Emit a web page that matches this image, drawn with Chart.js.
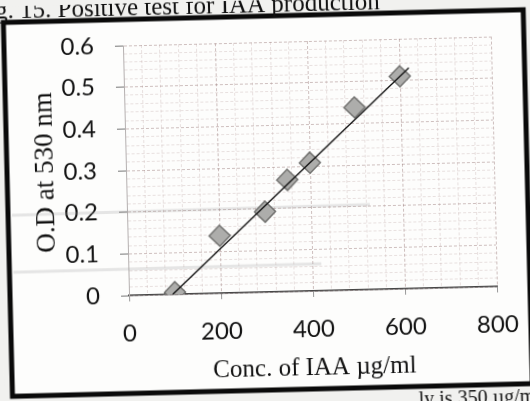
<!DOCTYPE html>
<html lang="en">

<head>
    <meta charset="UTF-8">
    <title>IAA standard curve</title>
    <style>
        html, body {
            margin: 0;
            padding: 0;
            width: 530px;
            height: 401px;
            overflow: hidden;
            background: #f1f1ef;
        }

        #wrap {
            position: absolute;
            left: 0;
            top: 0;
            width: 540px;
            height: 420px;
            transform: rotate(-1.4deg);
            transform-origin: 270px 210px;
        }
    </style>
    <script src="https://cdn.jsdelivr.net/npm/chart.js"></script>
</head>

<body>
    <div id="wrap">
        <canvas id="iaaChart" width="540" height="420"></canvas>
    </div>

    <script>
        // values
        const concValues = [100, 200, 300, 350, 400, 500, 600];
        const odValues = [0.005, 0.138, 0.193, 0.268, 0.308, 0.438, 0.51];
        const trendConc = [95, 620];
        const trendOd = [0, 0.53];
        const xTickLabels = [0, 200, 400, 600, 800];
        const yTickLabels = [0, 0.1, 0.2, 0.3, 0.4, 0.5, 0.6];

        const isMajorX = v => xTickLabels.includes(Math.round(v));
        const isMajorY = v => yTickLabels.some(t => Math.abs(t - v) < 1e-6);

        const majorGrid = 'rgba(140,105,105,0.42)';
        const minorGrid = 'rgba(160,125,125,0.22)';

        // frame, caption bits and photo smudges around the chart
        const pagePlugin = {
            id: 'page',
            beforeDraw(chart) {
                const ctx = chart.ctx;
                ctx.save();
                ctx.fillStyle = '#f1f1ef';
                ctx.fillRect(0, 0, chart.width, chart.height);
                ctx.fillStyle = '#fdfdfc';
                ctx.fillRect(8, 16, 520, 374);
                ctx.restore();
            },
            beforeDatasetsDraw(chart) {
                const ctx = chart.ctx;
                ctx.save();
                ctx.strokeStyle = 'rgba(160,160,160,0.25)';
                ctx.lineWidth = 3;
                ctx.beginPath();
                ctx.moveTo(12, 209);
                ctx.lineTo(370, 207);
                ctx.moveTo(12, 266);
                ctx.lineTo(320, 265);
                ctx.stroke();
                ctx.restore();
            },
            afterDraw(chart) {
                const ctx = chart.ctx;
                ctx.save();
                ctx.strokeStyle = '#0a0a0a';
                ctx.lineWidth = 5;
                ctx.strokeRect(8, 16, 520, 374);
                ctx.fillStyle = '#111';
                ctx.textBaseline = 'alphabetic';
                ctx.font = '25px "Liberation Serif"';
                ctx.fillText('g. 15. Positive test for IAA production', 0, 12);
                ctx.font = '20px "Liberation Serif"';
                ctx.fillText('ly is 350 \u00b5g/ml', 414, 409);
                ctx.restore();
            }
        };

        new Chart(document.getElementById('iaaChart'), {
            type: 'scatter',
            data: {
                datasets: [{
                    label: 'Trend',
                    data: trendConc.map((x, i) => ({ x: x, y: trendOd[i] })),
                    showLine: true,
                    borderColor: '#111',
                    borderWidth: 1.4,
                    pointRadius: 0,
                    order: 1
                }, {
                    label: 'O.D',
                    data: concValues.map((x, i) => ({ x: x, y: odValues[i] })),
                    pointStyle: 'rectRot',
                    pointRadius: 10.5,
                    pointHoverRadius: 10.5,
                    backgroundColor: '#adadab',
                    borderColor: '#737371',
                    borderWidth: 1.5,
                    order: 2
                }]
            },
            options: {
                responsive: false,
                animation: false,
                devicePixelRatio: 1,
                layout: {
                    padding: { left: 31, top: 42, right: 45, bottom: 36 }
                },
                plugins: {
                    legend: { display: false },
                    tooltip: { enabled: false }
                },
                scales: {
                    x: {
                        type: 'linear',
                        min: 0,
                        max: 800,
                        afterFit: s => { s.height = 92; },
                        ticks: {
                            stepSize: 40,
                            autoSkip: false,
                            maxRotation: 0,
                            padding: 18,
                            color: '#111',
                            font: { family: 'Lato', size: 24 },
                            callback: v => isMajorX(v) ? String(Math.round(v)) : ''
                        },
                        grid: {
                            color: c => c.tick && isMajorX(c.tick.value) ? majorGrid : minorGrid,
                            tickColor: c => c.tick && isMajorX(c.tick.value) ? '#999' : 'rgba(0,0,0,0)',
                            tickLength: 6,
                            lineWidth: 1
                        },
                        border: { color: '#444', width: 1.6, dash: [3, 2] },
                        title: {
                            display: true,
                            text: 'Conc. of IAA \u00b5g/ml',
                            color: '#111',
                            padding: 0,
                            font: { family: 'Liberation Serif', size: 25 }
                        }
                    },
                    y: {
                        min: 0,
                        max: 0.6,
                        afterFit: s => { s.width = 96; },
                        ticks: {
                            stepSize: 0.02,
                            autoSkip: false,
                            padding: 21,
                            color: '#111',
                            font: { family: 'Lato', size: 24 },
                            callback: v => isMajorY(v) ? String(Math.round(v * 10) / 10) : ''
                        },
                        grid: {
                            color: c => c.tick && isMajorY(c.tick.value) ? majorGrid : minorGrid,
                            tickColor: c => c.tick && isMajorY(c.tick.value) ? '#777' : 'rgba(0,0,0,0)',
                            tickLength: 8,
                            lineWidth: 1
                        },
                        border: { color: '#b5b0b0', width: 1, dash: [3, 2] },
                        title: {
                            display: true,
                            text: 'O.D at 530 nm',
                            color: '#111',
                            padding: 0,
                            font: { family: 'Liberation Serif', size: 27 }
                        }
                    }
                }
            },
            plugins: [pagePlugin]
        });
    </script>
</body>

</html>
